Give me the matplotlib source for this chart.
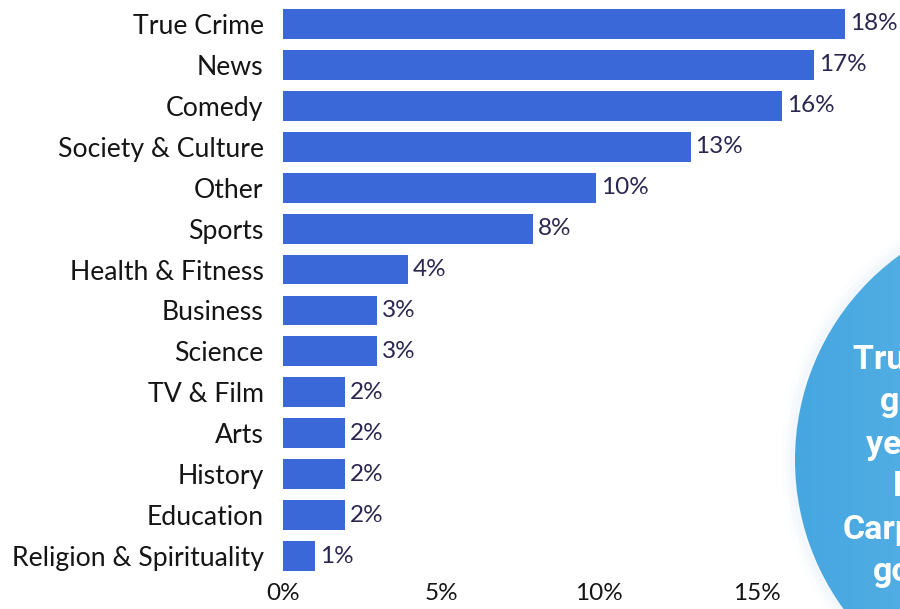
import numpy as np
import matplotlib
matplotlib.use("Agg")
import matplotlib.pyplot as plt
from matplotlib import patches
from matplotlib.colors import LinearSegmentedColormap

# genre share of listening (%)
genres = ["True Crime", "News", "Comedy", "Society & Culture", "Other", "Sports",
          "Health & Fitness", "Business", "Science", "TV & Film", "Arts",
          "History", "Education", "Religion & Spirituality"]
shares = [17.8, 16.8, 15.8, 12.9, 9.9, 7.9, 3.96, 2.97, 2.97, 1.96, 1.96, 1.96, 1.96, 1.01]
xticks = [0, 5, 10, 15]
xtick_labels = ["0%", "5%", "10%", "15%"]

# callout bubble text (cut off by the right edge in the original)
callout_lines = ["True Crime", "genre of the", "year for", "listeners on", "Carpools", "go-to"]

W, H = 900, 609
fig = plt.figure(figsize=(W / 100, H / 100), dpi=100)
fig.patch.set_facecolor("white")

bar_color = "#3b68d9"
label_color = "#151515"
value_color = "#29264f"
font = "Lato"

ax = fig.add_axes([283 / W, 32.5 / H, 1 - 283 / W, 573 / H])
y = np.arange(len(genres))
ax.barh(y, shares, height=0.73, color=bar_color)
for yi, v in zip(y, shares):
    ax.text(v + 0.15, yi, "%d%%" % round(v), va="center", ha="left",
            fontsize=17.5, color=value_color, family=font)

ax.set_xlim(0, (W - 283) / 31.6)
ax.set_ylim(len(genres) - 0.5, -0.5)
ax.set_yticks(y)
ax.set_yticklabels(genres, fontsize=19.2, color=label_color, family=font)
ax.set_xticks(xticks)
ax.set_xticklabels(xtick_labels, fontsize=17.5, color=label_color, family=font)
ax.tick_params(axis="both", length=0)
ax.tick_params(axis="y", pad=14)
ax.tick_params(axis="x", pad=5)
for s in ax.spines.values():
    s.set_visible(False)

# overlay in pixel coordinates for the callout bubble
ov = fig.add_axes([0, 0, 1, 1], zorder=4)
ov.set_xlim(0, W)
ov.set_ylim(H, 0)
ov.axis("off")
ov.patch.set_alpha(0)

cx, cy, r = 1048, 460, 253
for k, a in zip([14, 9, 5], [0.05, 0.07, 0.09]):
    ov.add_patch(patches.Circle((cx, cy), r + k, color="#bfe0f5", alpha=a, lw=0))
circ = patches.Circle((cx, cy), r, transform=ov.transData, facecolor="none", lw=0)
ov.add_patch(circ)
grad = np.tile(np.linspace(0, 1, 200), (50, 1))
cmap = LinearSegmentedColormap.from_list("bub", ["#46a6e0", "#60b8e8", "#6cc1ec"])
im = ov.imshow(grad, extent=[cx - r, cx + r, cy + r, cy - r], cmap=cmap,
               aspect="auto", zorder=1)
im.set_clip_path(circ)
ov.set_xlim(0, W)
ov.set_ylim(H, 0)

line_x = [853, 880, 866, 893, 843, 873]
line_y = [360, 402, 445, 487, 530, 572]
for t, lx, ly in zip(callout_lines, line_x, line_y):
    ov.text(lx, ly, t, ha="left", va="center", fontsize=24.5, color="white",
            fontweight="bold", family="Roboto", zorder=2)

fig.savefig("out.png", dpi=100)
